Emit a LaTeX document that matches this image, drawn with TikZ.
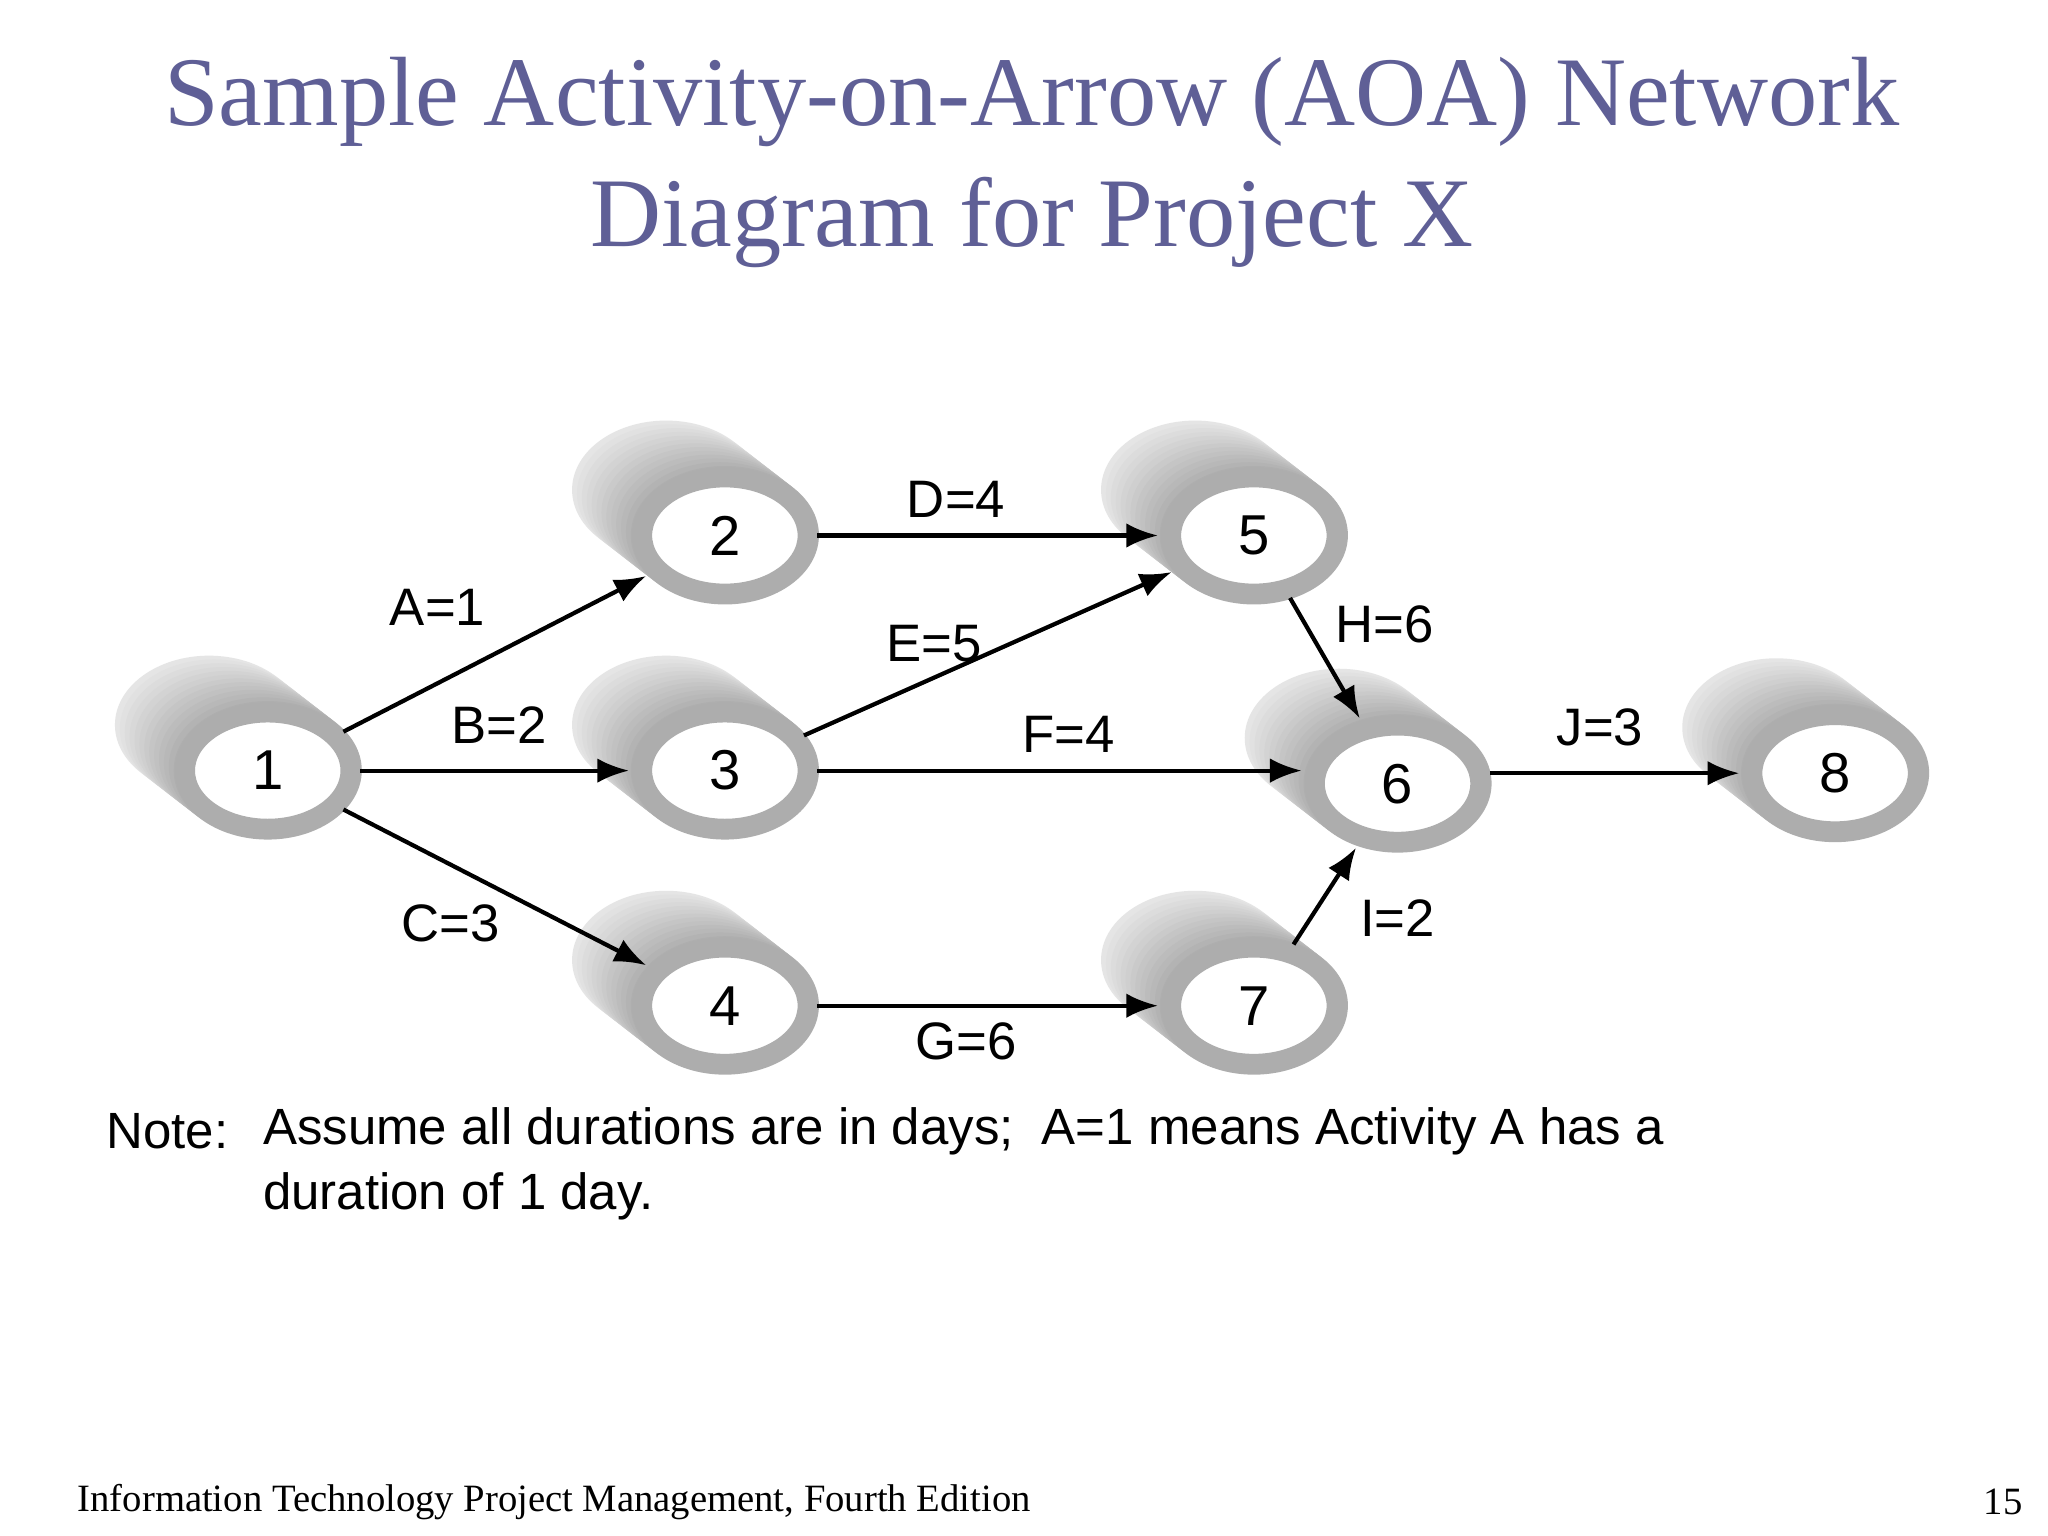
\documentclass[tikz,border=0pt]{standalone}
\usepackage{fontspec}
\setmainfont{Liberation Serif}
\newfontfamily\dsans{Liberation Sans}
\usetikzlibrary{shapes.geometric,arrows.meta}
\definecolor{titlec}{RGB}{95,95,150}
\tikzset{
 evtring/.style={ellipse, draw=black!32, line width=5.6pt, fill=white, minimum width=47pt, minimum height=33pt, inner sep=0pt, font=\dsans\fontsize{16}{18}\selectfont},
 arr/.style={-{Latex[length=9pt,width=7pt]}, line width=1.2pt, shorten >=1pt},
 lab/.style={font=\dsans\fontsize{15}{17}\selectfont},
}
\newcommand{\evtnode}[4]{%
 \foreach \k in {0,...,12}{
   \pgfmathsetmacro{\c}{10+\k*1.8}
   \fill[black!\c] ({#2-45+\k*3.75},{#3-35+\k*2.9}) ellipse (72 and 53);}
 \node[evtring] (#1) at (#2,#3) {#4};}
\begin{document}
\begin{tikzpicture}[x=0.01306cm,y=-0.01306cm]
\useasboundingbox (0,0) rectangle (1568,1176);
\fill[white] (0,0) rectangle (1568,1176);
\node[text=titlec, font=\fontsize{28}{32}\selectfont] (t1) at (790,78) {Sample Activity-on-Arrow (AOA) Network};
\node[text=titlec, font=\fontsize{28}{32}\selectfont] (t2) at (790,170) {Diagram for Project X};
\evtnode{n1}{205}{590}{1}
\evtnode{n2}{555}{410}{2}
\evtnode{n3}{555}{590}{3}
\evtnode{n4}{555}{770}{4}
\evtnode{n5}{960}{410}{5}
\evtnode{n6}{1070}{600}{6}
\evtnode{n7}{960}{770}{7}
\evtnode{n8}{1405}{592}{8}
\draw[arr] (n1) -- (n2);
\draw[arr] (n1.east) -- (n3.west);
\draw[arr] (n1) -- (n4);
\draw[arr] (n2.east) -- (n5.west);
\draw[arr] (n3) -- (n5);
\draw[arr] (n3.east) -- (n3.east -| n6.west);
\draw[arr] (n4.east) -- (n7.west);
\draw[arr] (n5) -- (n6);
\draw[arr] (n7) -- (n6);
\draw[arr] (n8.west -| n6.east) -- (n8.west);
\node[lab] (la) at (335,465) {A=1};
\node[lab] (lb) at (382,555) {B=2};
\node[lab] (lc) at (345,707) {C=3};
\node[lab] (ld) at (732,382) {D=4};
\node[lab] (le) at (715,493) {E=5};
\node[lab] (lf) at (818,562) {F=4};
\node[lab] (lg) at (740,797) {G=6};
\node[lab] (lh) at (1060,478) {H=6};
\node[lab] (li) at (1070,703) {I=2};
\node[lab] (lj) at (1225,557) {J=3};
\node[anchor=west, font=\dsans\fontsize{14.5}{17}\selectfont] (note) at (72,866) {Note:};
\node[anchor=west, font=\dsans\fontsize{14.5}{17}\selectfont] (n1t) at (192,866) {Assume all durations are in days;\ \ A=1 means Activity A has a};
\node[anchor=west, font=\dsans\fontsize{14.5}{17}\selectfont] (n2t) at (192,916) {duration of 1 day.};
\node[anchor=west, font=\fontsize{11}{13}\selectfont] (foot) at (50,1150) {Information Technology Project Management, Fourth Edition};
\node[anchor=east, font=\fontsize{11}{13}\selectfont] (pg) at (1558,1150) {15};
\end{tikzpicture}
\end{document}
